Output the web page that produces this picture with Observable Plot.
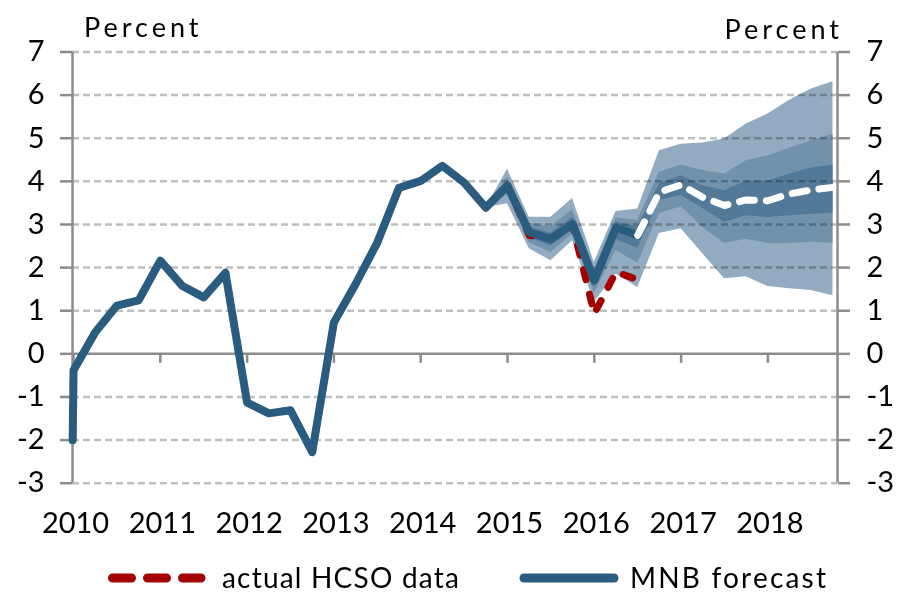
<!DOCTYPE html>
<html>
<head>
<meta charset="utf-8">
<script src="https://cdn.jsdelivr.net/npm/d3@7"></script>
<script src="https://cdn.jsdelivr.net/npm/@observablehq/plot@0.6"></script>
<style>
  body { margin: 0; background: #fff; font-family: Lato, "Open Sans", sans-serif; }
  #wrap { position: relative; width: 902px; height: 592px; overflow: hidden; }
  #chart { position: absolute; left: 0; top: 0; }
  #titles { position: absolute; left: 0; top: 0; }
  #legend { position: absolute; left: 0; top: 540px; }
</style>
</head>
<body>
<div id="wrap">
  <div id="chart"></div>
  <svg id="titles" width="902" height="50"></svg>
  <svg id="legend" width="902" height="52"></svg>
</div>
<script>
// ---------- data ----------
const yearTicks = [2010, 2011, 2012, 2013, 2014, 2015, 2016, 2017, 2018];
const yTicks = [-3, -2, -1, 0, 1, 2, 3, 4, 5, 6, 7];
const yLabel = "Percent";
const seriesNames = ["actual HCSO data", "MNB forecast"];

// quarterly history (decimal year), first entry is the series' starting stub
const histDates = [2009.99, 2010, 2010.25, 2010.5, 2010.75, 2011, 2011.25, 2011.5, 2011.75,
  2012, 2012.25, 2012.5, 2012.75, 2013, 2013.25, 2013.5, 2013.75, 2014, 2014.25, 2014.5, 2014.75,
  2015, 2015.25, 2015.5, 2015.75, 2016, 2016.25, 2016.5];
const mnbValues = [-2.0, -0.38, 0.5, 1.12, 1.24, 2.16, 1.58, 1.31, 1.88,
  -1.13, -1.38, -1.31, -2.28, 0.73, 1.62, 2.58, 3.85, 4.01, 4.36, 3.97, 3.39,
  3.9, 2.82, 2.66, 3.01, 1.7, 2.93, 2.75];
const hcsoValues = [-2.0, -0.38, 0.5, 1.12, 1.24, 2.16, 1.58, 1.31, 1.88,
  -1.13, -1.38, -1.31, -2.28, 0.73, 1.62, 2.58, 3.85, 4.01, 4.36, 3.97, 3.39,
  3.9, 2.75, 2.68, 2.98, 0.93, 1.9, 1.72];

// fan chart bands
const fanDates = [2014.75, 2015, 2015.25, 2015.5, 2015.75, 2016, 2016.25, 2016.5, 2016.75,
  2017, 2017.25, 2017.5, 2017.75, 2018, 2018.25, 2018.5, 2018.75];
const outerHigh = [3.39, 4.28, 3.17, 3.17, 3.6, 2.12, 3.3, 3.36, 4.71, 4.86, 4.89, 4.98, 5.33, 5.56, 5.88, 6.14, 6.31];
const midHigh   = [3.39, 4.1, 3.02, 2.95, 3.35, 1.95, 3.15, 3.1, 4.21, 4.38, 4.25, 4.17, 4.48, 4.59, 4.77, 4.94, 5.09];
const innerHigh = [3.39, 4.0, 2.93, 2.8, 3.17, 1.85, 3.05, 2.95, 3.94, 4.13, 3.9, 3.78, 4.0, 4.0, 4.17, 4.31, 4.38];
const innerLow  = [3.39, 3.8, 2.7, 2.5, 2.88, 1.55, 2.65, 2.45, 3.55, 3.67, 3.37, 3.05, 3.2, 3.16, 3.2, 3.24, 3.26];
const midLow    = [3.39, 3.68, 2.58, 2.35, 2.78, 1.4, 2.4, 2.1, 3.25, 3.41, 2.93, 2.56, 2.66, 2.56, 2.56, 2.59, 2.56];
const outerLow  = [3.39, 3.48, 2.44, 2.16, 2.62, 1.2, 1.85, 1.54, 2.79, 2.9, 2.32, 1.74, 1.79, 1.56, 1.51, 1.47, 1.35];

// central projection (white dashed)
const centralDates = [2016.5, 2016.75, 2017, 2017.25, 2017.5, 2017.75, 2018, 2018.25, 2018.5, 2018.75];
const centralValues = [2.75, 3.75, 3.92, 3.63, 3.44, 3.57, 3.55, 3.71, 3.8, 3.86];

// ---------- tables ----------
const mnb = histDates.map((t, i) => ({t, v: mnbValues[i]}));
const hcso = histDates.map((t, i) => ({t, v: hcsoValues[i]}));
const fan = fanDates.map((t, i) => ({t, oL: outerLow[i], oH: outerHigh[i], mL: midLow[i], mH: midHigh[i], iL: innerLow[i], iH: innerHigh[i]}));
const central = centralDates.map((t, i) => ({t, v: centralValues[i]}));

// ---------- styles ----------
const C = {
  blue: "#2a5c7f", red: "#a50000",
  outer: "#93abc0", mid: "#7292ab", inner: "#537999",
  grid: "#bfbfbf", axis: "#8c8c8c"
};
const FONT = "Lato, 'Open Sans', sans-serif";
const xDomain = [2009.988, 2018.802];
const tickSym = { draw(ctx) { ctx.moveTo(0, 0); ctx.lineTo(0, 9); } };

const chart = Plot.plot({
  width: 902,
  height: 540,
  marginLeft: 72,
  marginRight: 65,
  marginTop: 51.5,
  marginBottom: 57.3,
  x: {domain: xDomain, label: null},
  y: {domain: [yTicks[0], yTicks[yTicks.length - 1]], label: null},
  style: {fontFamily: FONT, fontSize: "29px", color: "#000", background: "#fff", overflow: "visible"},
  marks: [
    Plot.areaY(fan, {x: "t", y1: "oL", y2: "oH", fill: C.outer}),
    Plot.areaY(fan, {x: "t", y1: "mL", y2: "mH", fill: C.mid}),
    Plot.areaY(fan, {x: "t", y1: "iL", y2: "iH", fill: C.inner}),
    Plot.ruleY(yTicks.filter(d => d !== 0), {stroke: C.grid, strokeWidth: 2.5, strokeDasharray: "7,4", mixBlendMode: "multiply"}),
    Plot.ruleY([0], {stroke: C.axis, strokeWidth: 2.5}),
    Plot.dot(yearTicks, {x: d => d, y: d => 0, symbol: tickSym, fill: "none", stroke: C.axis, strokeWidth: 2.5, r: 3}),
    Plot.ruleX(xDomain, {stroke: C.axis, strokeWidth: 2.5}),
    Plot.axisY(yTicks, {anchor: "left", label: null, tickSize: 12, tickPadding: 16, stroke: C.axis, strokeWidth: 2.5, tickFormat: d => String(d), fill: "#000"}),
    Plot.axisY(yTicks, {anchor: "right", label: null, tickSize: 12, tickPadding: 17, stroke: C.axis, strokeWidth: 2.5, tickFormat: d => String(d), fill: "#000"}),
    Plot.axisX(yearTicks, {anchor: "bottom", label: null, tickSize: 0, tickPadding: 29, dx: 2, tickFormat: d => String(d), fill: "#000"}),
    Plot.line(hcso, {x: "t", y: "v", stroke: C.red, strokeWidth: 7, strokeDasharray: "10,15", strokeLinecap: "round", strokeLinejoin: "round"}),
    Plot.line(mnb, {x: "t", y: "v", stroke: C.blue, strokeWidth: 8, strokeLinecap: "round", strokeLinejoin: "round"}),
    Plot.line(central, {x: "t", y: "v", stroke: "#fff", strokeWidth: 7, strokeDasharray: "15,12", strokeLinecap: "round", strokeLinejoin: "round"})
  ]
});
document.getElementById("chart").appendChild(chart);

// ---------- titles ----------
const ns = "http://www.w3.org/2000/svg";
function addText(svg, x, y, str, anchor, size, spacing) {
  const t = document.createElementNS(ns, "text");
  t.setAttribute("x", x); t.setAttribute("y", y);
  t.setAttribute("text-anchor", anchor);
  t.setAttribute("font-family", FONT);
  t.setAttribute("font-size", size);
  t.setAttribute("letter-spacing", spacing);
  t.setAttribute("fill", "#000");
  t.textContent = str;
  svg.appendChild(t);
}
const titles = document.getElementById("titles");
addText(titles, 84, 37, yLabel, "start", 27, 4);
addText(titles, 843, 39, yLabel, "end", 27, 4);

// ---------- legend ----------
const legend = document.getElementById("legend");
function addLine(svg, x1, x2, y, color, dash) {
  const l = document.createElementNS(ns, "line");
  l.setAttribute("x1", x1); l.setAttribute("x2", x2);
  l.setAttribute("y1", y); l.setAttribute("y2", y);
  l.setAttribute("stroke", color); l.setAttribute("stroke-width", 9);
  l.setAttribute("stroke-linecap", "round");
  if (dash) l.setAttribute("stroke-dasharray", dash);
  svg.appendChild(l);
}
addLine(legend, 112.5, 201, 38, C.red, "19,16");
addText(legend, 222, 47.5, seriesNames[0], "start", 28, 1.2);
addLine(legend, 524, 614, 38, C.blue, null);
addText(legend, 630, 47.5, seriesNames[1], "start", 28, 2.2);
</script>
</body>
</html>
